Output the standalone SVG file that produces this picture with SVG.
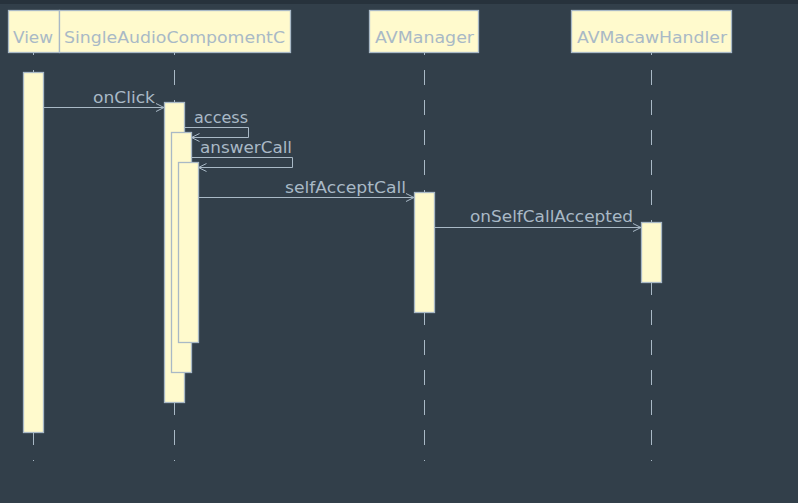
<svg xmlns="http://www.w3.org/2000/svg" width="798" height="503" viewBox="0 0 798 503">
<defs>
<style>
.bg{fill:#323f4a}
.head{fill:#fffacd;stroke:#a9b9c6;stroke-width:1.3}
.act{fill:#fffacd;stroke:#a9b9c6;stroke-width:1.3}
.life{stroke:#a9b9c6;stroke-width:1;stroke-dasharray:15 15;fill:none}
.msg{stroke:#a9b9c6;stroke-width:1;fill:none}
.t{font-family:"DejaVu Sans","Liberation Sans",sans-serif;font-size:16px;fill:#a9b9c6}
</style>
<marker id="arr" markerWidth="10" markerHeight="10" refX="9" refY="5" orient="auto" markerUnits="userSpaceOnUse">
<path d="M1,1 L9,5 L1,9" fill="none" stroke="#a9b9c6" stroke-width="1"/>
</marker>
</defs>
<rect class="bg" x="0" y="0" width="798" height="503"/>
<rect x="0" y="0" width="798" height="4" fill="#27323c"/>
<g id="lifelines">
<line class="life" x1="33.5" y1="40" x2="33.5" y2="461"/>
<line class="life" x1="174.5" y1="40" x2="174.5" y2="461"/>
<line class="life" x1="424.5" y1="40" x2="424.5" y2="461"/>
<line class="life" x1="651.5" y1="40" x2="651.5" y2="461"/>
</g>
<g id="View">
<rect class="head" x="8.5" y="10.5" width="51" height="42"/>
<text class="t" x="13" y="43" textLength="40" lengthAdjust="spacingAndGlyphs">View</text>
<rect class="act" x="23.5" y="72.5" width="20" height="360"/>
</g>
<g id="SingleAudioCompomentC">
<rect class="head" x="59.5" y="10.5" width="231" height="42"/>
<text class="t" x="64" y="43" textLength="221" lengthAdjust="spacingAndGlyphs">SingleAudioCompomentC</text>
<rect class="act" x="164.5" y="102.5" width="20" height="300"/>
<rect class="act" x="171.5" y="132.5" width="20" height="240"/>
<rect class="act" x="178.5" y="162.5" width="20" height="180"/>
</g>
<g id="AVManager">
<rect class="head" x="369.5" y="10.5" width="109" height="42"/>
<text class="t" x="375" y="43" textLength="99" lengthAdjust="spacingAndGlyphs">AVManager</text>
<rect class="act" x="414.5" y="192.5" width="20" height="120"/>
</g>
<g id="AVMacawHandler">
<rect class="head" x="571.5" y="10.5" width="160" height="42"/>
<text class="t" x="577" y="43" textLength="150" lengthAdjust="spacingAndGlyphs">AVMacawHandler</text>
<rect class="act" x="641.5" y="222.5" width="20" height="60"/>
</g>
<g id="connectors">
<line class="msg" x1="43.5" y1="107.5" x2="164" y2="107.5" marker-end="url(#arr)"/>
<text class="t" x="93" y="103" textLength="62" lengthAdjust="spacingAndGlyphs">onClick</text>
<polyline class="msg" points="184.5,127.5 248.5,127.5 248.5,137.5 191.5,137.5" marker-end="url(#arr)"/>
<text class="t" x="194" y="123" textLength="54" lengthAdjust="spacingAndGlyphs">access</text>
<polyline class="msg" points="191.5,157.5 292.5,157.5 292.5,167.5 198.5,167.5" marker-end="url(#arr)"/>
<text class="t" x="200" y="153" textLength="92" lengthAdjust="spacingAndGlyphs">answerCall</text>
<line class="msg" x1="198.5" y1="197.5" x2="414" y2="197.5" marker-end="url(#arr)"/>
<text class="t" x="285" y="193" textLength="121" lengthAdjust="spacingAndGlyphs">selfAcceptCall</text>
<line class="msg" x1="434.5" y1="227.5" x2="641" y2="227.5" marker-end="url(#arr)"/>
<text class="t" x="470" y="222" textLength="163" lengthAdjust="spacingAndGlyphs">onSelfCallAccepted</text>
</g>
</svg>
